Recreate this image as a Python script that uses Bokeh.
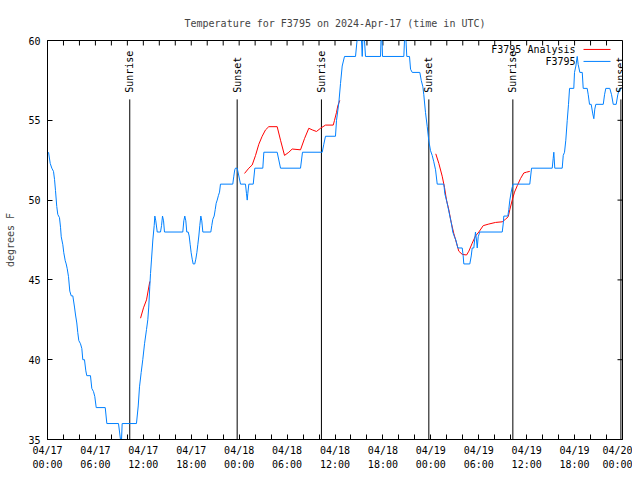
import math
from bokeh.plotting import figure
from bokeh.models import Range1d, LinearAxis, FixedTicker, Label
from bokeh.core.properties import value
from bokeh.embed import file_html
from bokeh.resources import INLINE

# ---------------- data (hours since 2024-04-17 00:00 UTC, degrees F) ----------------
obs_hours = [0.13, 0.34, 0.54, 0.75, 0.88, 1.00, 1.16, 1.29, 1.50, 1.63, 1.72, 1.92, 2.04, 2.22,
             2.34, 2.47, 2.63, 2.79, 2.97, 3.17, 3.38, 3.51, 3.67, 3.79, 3.92, 4.13, 4.30, 4.42,
             4.63, 4.80, 4.92, 5.38, 5.55, 5.76, 5.92, 6.10, 7.23, 7.43, 8.89, 9.14, 9.27, 9.35,
             11.14, 11.36, 11.52, 11.73, 11.93, 12.15, 12.40, 12.56, 12.68, 12.81, 12.90, 13.02,
             13.19, 13.36, 13.44, 13.56, 13.74, 14.15, 14.28, 14.40, 14.53, 14.65, 16.94, 17.07,
             17.19, 17.32, 17.44, 17.62, 17.74, 17.87, 17.99, 18.12, 18.24, 18.44, 18.57, 18.70,
             18.82, 18.95, 19.07, 19.20, 19.32, 19.45, 20.45, 20.57, 20.70, 20.87, 21.00, 21.12,
             21.25, 21.41, 21.54, 21.66, 23.20, 23.33, 23.45, 23.54, 23.75, 23.88, 24.17, 24.79,
             24.92, 25.01, 25.08, 25.21, 25.76, 25.96, 26.96, 27.09, 28.76, 29.18, 31.68, 31.93,
             34.40, 34.60, 34.81, 36.06, 36.19, 36.48, 36.69, 36.90, 37.19, 38.57, 38.76, 39.32,
             39.41, 39.48, 39.69, 39.82, 41.70, 41.76, 41.89, 41.95, 44.62, 44.70, 44.89, 44.99,
             45.33, 45.46, 45.67, 46.62, 46.80, 47.00, 47.12, 47.33, 47.55, 47.75, 47.96, 48.17,
             48.37, 48.59, 48.80, 49.63, 49.75, 49.96, 50.13, 50.38, 50.59, 50.75, 50.96, 51.13,
             51.38, 51.93, 52.05, 52.13, 52.88, 53.06, 53.18, 53.38, 53.59, 53.72, 53.81, 53.93,
             54.13, 56.94, 57.06, 57.14, 57.64, 57.76, 57.89, 58.06, 58.19, 58.31, 60.39, 60.61,
             63.20, 63.32, 63.40, 63.52, 64.45, 64.58, 64.74, 64.90, 65.08, 65.24, 65.37, 65.90,
             65.99, 66.16, 66.33, 66.45, 66.66, 66.96, 67.08, 67.58, 67.71, 67.87, 68.08, 68.28,
             68.41, 68.53, 68.66, 69.59, 69.75, 69.91, 70.41, 70.63, 70.84, 71.21, 71.41, 71.63,
             71.88]
obs_temps = [53.0, 52.3, 52.0, 51.8, 51.3, 50.6, 49.6, 49.1, 48.9, 48.3, 47.7, 47.2, 46.7, 46.2,
             46.0, 45.7, 45.2, 44.3, 44.0, 44.0, 43.3, 42.8, 42.3, 41.7, 41.2, 41.0, 40.7, 40.0,
             40.0, 39.3, 39.0, 39.0, 38.2, 38.0, 37.7, 37.0, 37.0, 36.0, 36.0, 35.0, 35.0, 36.0,
             36.0, 37.1, 38.3, 39.2, 40.0, 41.0, 41.9, 42.5, 43.3, 44.6, 45.4, 46.25,
             47.5, 48.4, 49.0, 48.7, 48.0, 48.0, 48.4, 49.0, 48.7, 48.0, 48.0, 48.7,
             49.0, 48.7, 48.0, 48.0, 47.75, 47.2, 46.7, 46.3, 46.0, 46.0, 46.3, 46.7,
             47.2, 47.75, 48.4, 49.0, 48.7, 48.0, 48.0, 48.4, 48.8, 49.0, 49.4, 49.8,
             50.0, 50.3, 50.5, 51.0, 51.0, 51.5, 51.9, 52.0, 52.0, 51.7, 51.0, 51.0,
             50.4, 50.0, 50.4, 51.0, 51.0, 52.0, 52.0, 53.0, 53.0, 52.0, 52.0, 53.0,
             53.0, 53.5, 54.0, 54.0, 55.0, 56.1, 57.3, 58.4, 59.0, 59.0, 60.0, 60.0,
             59.0, 60.0, 60.0, 59.0, 59.0, 60.0, 60.0, 59.0, 59.0, 60.0, 60.0, 59.0,
             59.0, 58.2, 58.0, 58.0, 57.5, 57.1, 56.6, 55.5, 54.6, 53.7, 53.1, 52.8,
             52.4, 51.9, 51.0, 51.0, 50.4, 50.0, 49.6, 49.0, 48.5, 48.0, 47.7, 47.5,
             47.0, 47.0, 46.5, 46.0, 46.0, 46.5, 47.0, 47.0, 48.0, 47.5, 47.0, 47.7,
             48.0, 48.0, 48.5, 49.0, 49.0, 49.4, 50.0, 50.5, 50.8, 51.0, 51.0, 52.0,
             52.0, 52.6, 53.0, 52.0, 52.0, 52.8, 53.0, 53.75, 55.0, 56.0, 57.0, 57.0,
             58.0, 58.4, 59.0, 58.5, 58.0, 58.0, 57.0, 57.0, 56.6, 56.0, 56.0, 55.4,
             55.1, 55.7, 56.0, 56.0, 56.6, 57.0, 57.0, 56.6, 56.0, 56.0, 56.6, 57.0,
             57.0]

# analysis series (three separate pieces)
ana_hours_1 = [11.65, 12.02, 12.40, 12.81]
ana_temps_1 = [42.6, 43.25, 43.75, 44.9]
ana_hours_2 = [24.67, 25.21, 25.63, 26.05, 26.46, 26.88, 27.30, 27.71, 28.76, 29.18, 29.68,
               30.22, 30.64, 31.68, 32.18, 32.72, 33.15, 33.68, 34.19, 34.81, 35.78, 35.94,
               36.19, 36.35, 36.60]
ana_temps_2 = [51.67, 52.0, 52.2, 52.8, 53.5, 54.0, 54.4, 54.6, 54.6, 53.75, 52.8,
               53.0, 53.2, 53.15, 53.85, 54.5, 54.4, 54.3, 54.5, 54.7, 54.7, 55.0,
               55.5, 55.9, 56.25]
ana_hours_3 = [48.62, 49.00, 49.42, 49.71, 49.96, 50.25, 50.55, 50.88, 51.22, 51.50, 51.93,
               52.47, 52.76, 53.18, 53.59, 54.01, 54.56, 55.26, 56.10, 56.94, 57.35, 57.69,
               57.89, 58.19, 58.48, 58.82, 59.23, 59.64, 59.98, 60.39]
ana_temps_3 = [52.9, 52.3, 51.5, 50.8, 50.0, 49.4, 48.6, 47.9, 47.3, 46.8, 46.6,
               46.56, 46.8, 47.3, 47.75, 48.0, 48.4, 48.5, 48.6, 48.64, 48.8, 48.96,
               49.4, 50.0, 50.5, 50.9, 51.35, 51.7, 51.75, 51.8]

sun_hours = [10.30, 23.75, 34.30, 47.75, 58.27, 71.80]
sun_names = ["Sunrise", "Sunset", "Sunrise", "Sunset", "Sunrise", "Sunset"]

tick_hours = list(range(0, 73, 2))
label_hours = [0, 6, 12, 18, 24, 30, 36, 42, 48, 54, 60, 66, 72]
label_texts = ["04/17\n00:00", "04/17\n06:00", "04/17\n12:00", "04/17\n18:00",
               "04/18\n00:00", "04/18\n06:00", "04/18\n12:00", "04/18\n18:00",
               "04/19\n00:00", "04/19\n06:00", "04/19\n12:00", "04/19\n18:00",
               "04/20\n00:00"]
y_ticks = [35, 40, 45, 50, 55, 60]

title_text = "Temperature for F3795 on 2024-Apr-17 (time in UTC)"
series_names = ["F3795 Analysis", "F3795"]
series_colors = ["#ff0000", "#0080ff"]

# ---------------- styling constants ----------------
FONT = "DejaVu Sans Mono"
FS = "10px"
X0, X1, Y0, Y1 = 0, 72, 35, 60
TICK_X = 5 / 7.986   # 5 px expressed in hours
TICK_Y = 5 / 16.0    # 5 px expressed in degrees
SUN_LINE_TOP = 56.31
SUN_TEXT_Y = 56.72

p = figure(width=632, height=472, output_backend="svg", toolbar_location=None,
           x_range=Range1d(X0, X1), y_range=Range1d(Y0, Y1),
           min_border_left=47, min_border_right=10, min_border_top=40, min_border_bottom=32,
           x_axis_location=None, y_axis_location=None)
p.background_fill_color = "white"
p.border_fill_color = "white"
p.outline_line_color = "black"
p.outline_line_width = 1
p.xgrid.visible = False
p.ygrid.visible = False

p.title.text = title_text
p.title.align = "center"
p.title.vertical_align = "top"
p.title.text_font = FONT
p.title.text_font_size = FS
p.title.text_font_style = "normal"
p.title.standoff = 20

minor_hours = [h for h in tick_hours if h not in label_hours]
label_map = {h: t for h, t in zip(label_hours, label_texts)}


def style_axis(ax):
    ax.axis_line_color = "black"
    ax.major_tick_line_color = "black"
    ax.major_tick_in = 5
    ax.major_tick_out = 0
    ax.minor_tick_line_color = "black"
    ax.minor_tick_in = 5
    ax.minor_tick_out = 0
    ax.major_label_text_font = FONT
    ax.major_label_text_font_size = FS
    ax.major_label_text_color = "black"


xb = LinearAxis(ticker=FixedTicker(ticks=label_hours, minor_ticks=minor_hours),
                major_label_overrides=label_map)
style_axis(xb)
xb.major_label_standoff = 5
xb.major_label_text_line_height = 1.3
p.add_layout(xb, "below")

yl = LinearAxis(ticker=FixedTicker(ticks=y_ticks), axis_label="degrees F")
style_axis(yl)
yl.minor_tick_line_color = None
yl.major_label_standoff = 7
yl.axis_label_standoff = 9
yl.axis_label_text_font = FONT
yl.axis_label_text_font_size = FS
yl.axis_label_text_font_style = "normal"
p.add_layout(yl, "left")

# mirrored ticks on the top and right edges
p.segment(x0=tick_hours, y0=[Y1] * len(tick_hours), x1=tick_hours, y1=[Y1 - TICK_Y] * len(tick_hours),
          line_color="black", line_width=1)
p.segment(x0=[X1] * len(y_ticks), y0=y_ticks, x1=[X1 - TICK_X] * len(y_ticks), y1=y_ticks,
          line_color="black", line_width=1)

# sunrise / sunset markers
p.segment(x0=sun_hours, y0=[Y0] * len(sun_hours), x1=sun_hours, y1=[SUN_LINE_TOP] * len(sun_hours),
          line_color="black", line_width=1)
for h, name in zip(sun_hours, sun_names):
    p.add_layout(Label(x=h, y=SUN_TEXT_Y, text=name, angle=math.pi / 2,
                       text_align="left", text_baseline="middle",
                       text_font=FONT, text_font_size=FS, text_color="black"))

# series
p.multi_line(xs=[ana_hours_1, ana_hours_2, ana_hours_3], ys=[ana_temps_1, ana_temps_2, ana_temps_3],
             line_color=series_colors[0], line_width=1)
p.line(obs_hours, obs_temps, line_color=series_colors[1], line_width=1)

# gnuplot-style key (text right-aligned, sample line to the right)
KEY_TEXT_X = 66.12
KEY_LINE_X0, KEY_LINE_X1 = 67.12, 70.5
KEY_ROWS_Y = [59.44, 58.69]
p.text(x=[KEY_TEXT_X] * 2, y=KEY_ROWS_Y, text=series_names, text_align="right",
       text_baseline="middle", text_font=value(FONT), text_font_size=FS, text_color="black")
p.segment(x0=[KEY_LINE_X0] * 2, y0=KEY_ROWS_Y, x1=[KEY_LINE_X1] * 2, y1=KEY_ROWS_Y,
          line_color=series_colors, line_width=1)

open("out.html", "w").write(file_html(p, INLINE))
